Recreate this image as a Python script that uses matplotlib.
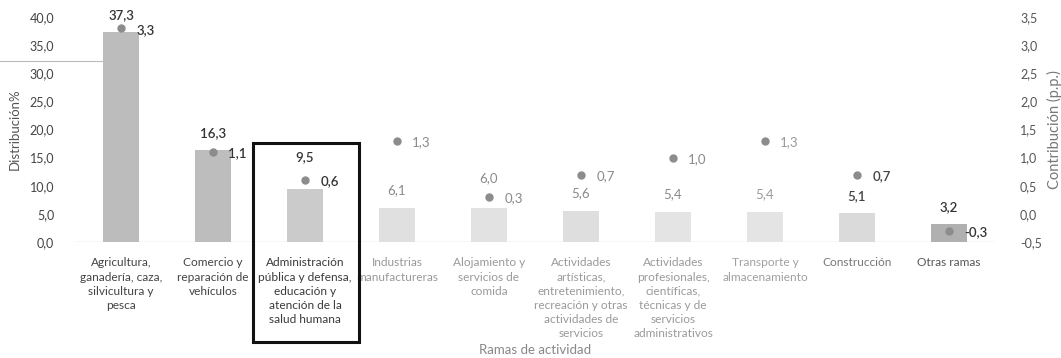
import matplotlib

matplotlib.use("Agg")
import matplotlib.pyplot as plt
from matplotlib.patches import Rectangle

plt.rcParams["font.family"] = ["Lato", "DejaVu Sans"]

categories = [
    "Agricultura,\nganadería, caza,\nsilvicultura y\npesca",
    "Comercio y\nreparación de\nvehículos",
    "Administración\npública y defensa,\neducación y\natención de la\nsalud humana",
    "Industrias\nmanufactureras",
    "Alojamiento y\nservicios de\ncomida",
    "Actividades\nartísticas,\nentretenimiento,\nrecreación y otras\nactividades de\nservicios",
    "Actividades\nprofesionales,\ncientíficas,\ntécnicas y de\nservicios\nadministrativos",
    "Transporte y\nalmacenamiento",
    "Construcción",
    "Otras ramas",
]
distribucion = [37.3, 16.3, 9.5, 6.1, 6.0, 5.6, 5.4, 5.4, 5.1, 3.2]
contribucion = [3.3, 1.1, 0.6, 1.3, 0.3, 0.7, 1.0, 1.3, 0.7, -0.3]
left_ticks = [0, 5, 10, 15, 20, 25, 30, 35, 40]
right_ticks = [-0.5, 0, 0.5, 1.0, 1.5, 2.0, 2.5, 3.0, 3.5]

# scan look: some columns printed darker than others
bar_colors = ["#bcbcbc", "#bdbdbd", "#cbcbcb", "#e0e0e0", "#e2e2e2",
              "#dedede", "#e4e4e4", "#e4e4e4", "#dadada", "#b0b0b0"]
text_colors = ["#444444", "#444444", "#3a3a3a", "#999999", "#9a9a9a",
               "#9a9a9a", "#9a9a9a", "#a0a0a0", "#777777", "#555555"]
value_colors = ["#333333", "#333333", "#333333", "#8a8a8a", "#8a8a8a",
                "#8a8a8a", "#8a8a8a", "#9a9a9a", "#444444", "#333333"]
# Excel pushed a couple of bar labels up to clear the dot labels
label_lift = [8, 8, 18, 8, 17, 8, 8, 8, 8, 8]


def fmt(v):
    return f"{v:.1f}".replace(".", ",")


def weight(c):
    return "semibold" if c in ("#333333", "#444444") else "normal"


fig = plt.figure(figsize=(10.61, 3.58), dpi=100)
ax = fig.add_axes([75 / 1061, 116 / 358, 920 / 1061, 225 / 358])
ax2 = ax.twinx()

x = list(range(len(categories)))
ax.bar(x, distribucion, width=0.39, color=bar_colors, zorder=2)
ax.axhline(0, color="#d8d8d8", lw=1, zorder=1)
ax.set_xlim(-0.5, len(categories) - 0.5)
ax.set_ylim(0, 40)
ax.set_yticks(left_ticks)
ax.set_yticklabels([fmt(t) for t in left_ticks], fontsize=9, color="#444444")
ax.set_xticks(x)
ax.set_xticklabels(categories, fontsize=8.6, linespacing=1.36, va="top")
for lbl, c in zip(ax.get_xticklabels(), text_colors):
    lbl.set_color(c)
ax.tick_params(axis="x", length=0, pad=11)
ax.tick_params(axis="y", length=0, pad=15)
ax.set_ylabel("Distribución%", fontsize=9.5, color="#555555", labelpad=6)
ax.set_xlabel("Ramas de actividad", fontsize=9.5, color="#888888", labelpad=3)
for s in ax.spines.values():
    s.set_visible(False)

for i, v in enumerate(distribucion):
    ax.annotate(fmt(v), (i, v), xytext=(0, label_lift[i]), textcoords="offset points",
                ha="center", va="bottom", fontsize=9.5, color=value_colors[i],
                fontweight=weight(value_colors[i]))

ax2.plot(x, contribucion, "o", ms=5, color="#8c8c8c", zorder=3)
ax2.set_ylim(-0.5, 3.5)
ax2.set_yticks(right_ticks)
ax2.set_yticklabels([fmt(t) for t in right_ticks], fontsize=9, color="#555555")
ax2.tick_params(axis="y", length=0, pad=18)
ax2.set_ylabel("Contribución (p.p.)", fontsize=10.5, color="#777777", labelpad=4)
for s in ax2.spines.values():
    s.set_visible(False)

for i, v in enumerate(contribucion):
    ax2.annotate(fmt(v), (i, v), xytext=(11, -1), textcoords="offset points",
                 ha="left", va="center", fontsize=9.5, color=value_colors[i],
                 fontweight=weight(value_colors[i]))

# highlight frame around the public administration branch
ax.add_patch(Rectangle((1.43, -17.8), 1.16, 35.4, fill=False, lw=2.2,
                       edgecolor="#111111", clip_on=False, zorder=5))

# stray scan line at the left
fig.add_artist(plt.Line2D([0, 128 / 1061], [1 - 61 / 358] * 2, color="#bbbbbb", lw=0.8))

fig.savefig("out.png", dpi=100)
